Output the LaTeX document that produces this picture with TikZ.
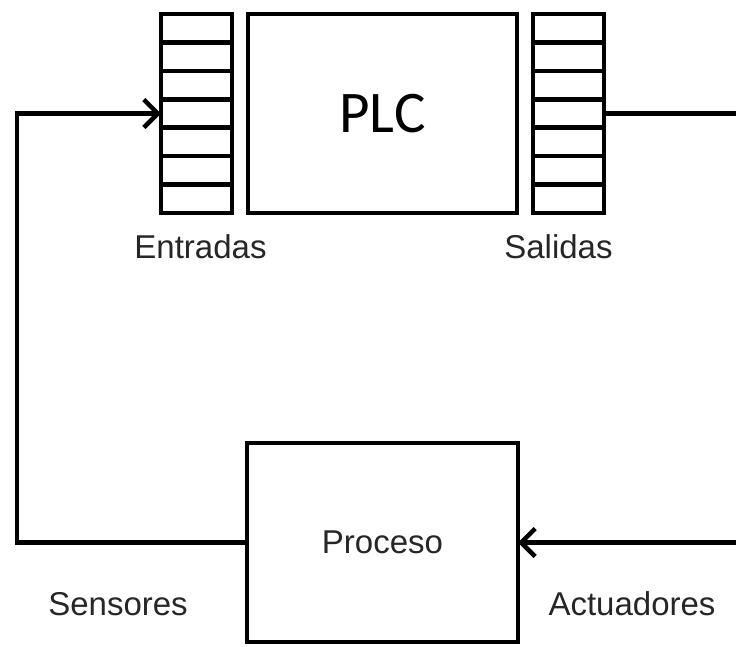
\documentclass[tikz,border=0pt]{standalone}
\usepackage{fontspec}
\setmainfont{Liberation Sans}
\newfontfamily\plcfont{Carlito}
\usetikzlibrary{arrows.meta,calc,positioning}

\begin{document}
\begin{tikzpicture}[x=1pt,y=-1pt,line width=4.5pt,
  blk/.style={draw,minimum width=#1,minimum height=199pt,inner sep=0pt,outer sep=0pt},
  blk/.default=269pt,
  reg/.style={blk=71pt},
  lbl/.style={font=\fontsize{33}{36}\selectfont,text=black!85,inner sep=0pt},
  sig/.style={-{Straight Barb[length=14pt,width=28pt]}}]
  \useasboundingbox (0,0) rectangle (736,646);
  \node[blk] (plc) at (382.5,113.5) {\plcfont\fontsize{59}{60}\selectfont PLC};
  \node[reg,left=16pt of plc] (inreg) {};
  \node[reg,right=16pt of plc] (outreg) {};
  \foreach \r in {inreg,outreg}
    \foreach \k in {1,...,6}
      \draw ($(\r.north west)!\k/7!(\r.south west)$) -- ($(\r.north east)!\k/7!(\r.south east)$);
  \node[lbl,below=19pt of inreg,xshift=4pt] (ent) {Entradas};
  \node[lbl,below=19pt of outreg,xshift=-10pt] (sal) {Salidas};
  \node[blk=271pt,lbl,inner sep=0pt] (proc) at (382.5,542.5) {Proceso};
  \node[lbl] (sen) at (118,604) {Sensores};
  \node[lbl] (act) at (632,604) {Actuadores};
  \coordinate (lft) at (17,330);
  \coordinate (rtop) at (736,113.5);
  \coordinate (rbot) at (736,542.5);
  \draw[sig] (proc.west) -| (lft) |- (inreg.west);
  \draw (outreg.east) -- (rtop);
  \draw[sig] (rbot) -- (proc.east);
\end{tikzpicture}
\end{document}
